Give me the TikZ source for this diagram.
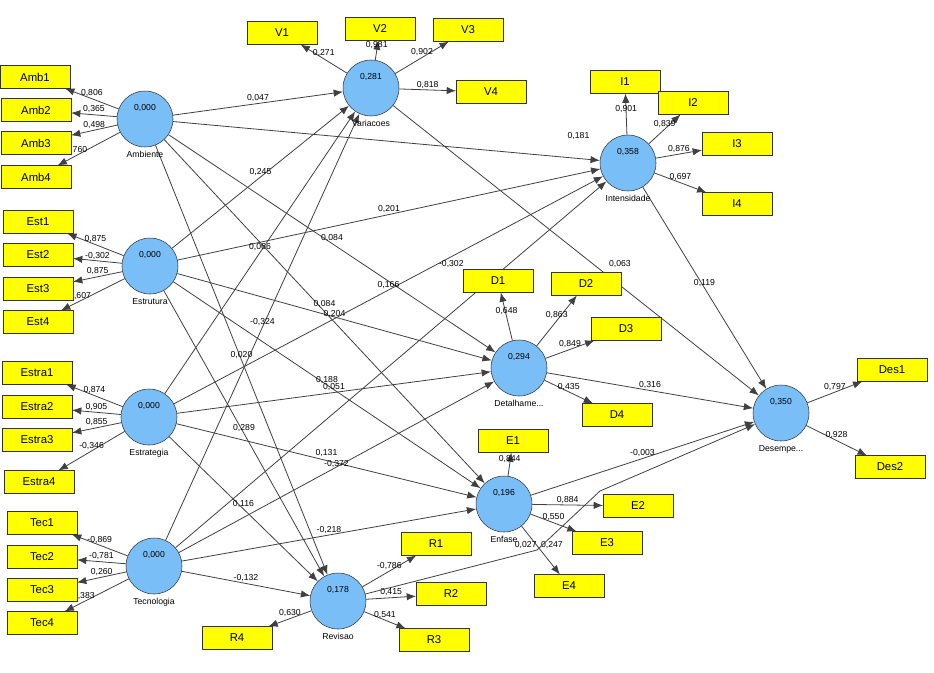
\documentclass[tikz,border=0pt]{standalone}
\usepackage{fontspec}
\setmainfont{Liberation Sans}
\usetikzlibrary{arrows.meta,backgrounds}
\definecolor{lvblue}{RGB}{122,190,248}
\definecolor{mvyellow}{RGB}{255,255,0}
\begin{document}
\begin{tikzpicture}[
        x=0.75pt, y=-0.75pt,
        lv/.style 2 args = {
            circle, draw=black!80, fill=lvblue,
            minimum size=42pt, inner sep=0pt,
            label={[lvnum]center:#1},
            label={[lvname]below:#2}},
        lvnum/.style = {yshift=8pt, font=\fontsize{6.5}{7}\selectfont},
        lvname/.style = {font=\fontsize{6.5}{7}\selectfont, inner sep=3pt},
        mv/.style = {
            draw=black!80, fill=mvyellow, outer sep=0pt,
            minimum width=52.5pt, minimum height=17.25pt,
            font=\fontsize{8.5}{9}\selectfont},
        arr/.style = {-{Latex[length=7pt,width=5.5pt]}, draw=black!75, line width=0.6pt},
        lib/.style = {pos=#1, above=1pt, inner sep=0pt, font=\fontsize{6.5}{7}\selectfont},
        lib/.default = 0.5,
]
        \useasboundingbox (0,0) rectangle (934,672);

        % constructs
        \node[lv={0,000}{Ambiente}]    (Amb)   at (145,119) {};
        \node[lv={0,000}{Estrutura}]   (Est)   at (150,266) {};
        \node[lv={0,000}{Estrategia}]  (Estra) at (149,417) {};
        \node[lv={0,000}{Tecnologia}]  (Tec)   at (154,566) {};
        \node[lv={0,281}{Variacoes}]   (Var)   at (371,88)  {};
        \node[lv={0,358}{Intensidade}] (Int)   at (628,163) {};
        \node[lv={0,294}{Detalhame...}] (Det)  at (519,368) {};
        \node[lv={0,196}{Enfase}]      (Enf)   at (504,504) {};
        \node[lv={0,178}{Revisao}]     (Rev)   at (338,601) {};
        \node[lv={0,350}{Desempe...}]  (Des)   at (781,413) {};

        % indicators
        \node[mv] (Amb1) at (35,77)  {Amb1};
        \node[mv] (Amb2) at (36,110) {Amb2};
        \node[mv] (Amb3) at (36,143) {Amb3};
        \node[mv] (Amb4) at (36,177) {Amb4};
        \node[mv] (Est1) at (38,222) {Est1};
        \node[mv] (Est2) at (38,255) {Est2};
        \node[mv] (Est3) at (38,289) {Est3};
        \node[mv] (Est4) at (38,322) {Est4};
        \node[mv] (Estra1) at (37,373) {Estra1};
        \node[mv] (Estra2) at (37,407) {Estra2};
        \node[mv] (Estra3) at (37,440) {Estra3};
        \node[mv] (Estra4) at (39,482) {Estra4};
        \node[mv] (Tec1) at (42,523) {Tec1};
        \node[mv] (Tec2) at (42,557) {Tec2};
        \node[mv] (Tec3) at (42,590) {Tec3};
        \node[mv] (Tec4) at (42,623) {Tec4};
        \node[mv] (V1) at (282,33) {V1};
        \node[mv] (V2) at (380,29) {V2};
        \node[mv] (V3) at (468,30) {V3};
        \node[mv] (V4) at (491,92) {V4};
        \node[mv] (I1) at (625,82)  {I1};
        \node[mv] (I2) at (693,103) {I2};
        \node[mv] (I3) at (737,144) {I3};
        \node[mv] (I4) at (737,204) {I4};
        \node[mv] (D1) at (498,281) {D1};
        \node[mv] (D2) at (586,284) {D2};
        \node[mv] (D3) at (626,329) {D3};
        \node[mv] (D4) at (617,415) {D4};
        \node[mv] (E1) at (513,441) {E1};
        \node[mv] (E2) at (638,506) {E2};
        \node[mv] (E3) at (607,543) {E3};
        \node[mv] (E4) at (569,586) {E4};
        \node[mv] (R1) at (436,544) {R1};
        \node[mv] (R2) at (451,594) {R2};
        \node[mv] (R3) at (434,640) {R3};
        \node[mv] (R4) at (237,638) {R4};
        \node[mv] (Des1) at (892,370) {Des1};
        \node[mv] (Des2) at (890,467) {Des2};

        \coordinate (rp1) at (537,550);
        \coordinate (rp2) at (600,491);

        \begin{scope}[on background layer]
        % outer model
        \draw[arr] (Amb) -- (Amb1) node[lib]{0,806};
        \draw[arr] (Amb) -- (Amb2) node[lib]{0,365};
        \draw[arr] (Amb) -- (Amb3) node[lib]{0,498};
        \draw[arr] (Amb) -- (Amb4) node[lib=0.7]{0,760};
        \draw[arr] (Est) -- (Est1) node[lib]{0,875};
        \draw[arr] (Est) -- (Est2) node[lib]{-0,302};
        \draw[arr] (Est) -- (Est3) node[lib]{0,875};
        \draw[arr] (Est) -- (Est4) node[lib=0.7]{0,607};
        \draw[arr] (Estra) -- (Estra1) node[lib]{0,874};
        \draw[arr] (Estra) -- (Estra2) node[lib]{0,905};
        \draw[arr] (Estra) -- (Estra3) node[lib]{0,855};
        \draw[arr] (Estra) -- (Estra4) node[lib]{-0,346};
        \draw[arr] (Tec) -- (Tec1) node[lib]{-0,869};
        \draw[arr] (Tec) -- (Tec2) node[lib]{-0,781};
        \draw[arr] (Tec) -- (Tec3) node[lib]{0,260};
        \draw[arr] (Tec) -- (Tec4) node[lib=0.7]{0,383};
        \draw[arr] (Var) -- (V1) node[lib]{0,271};
        \draw[arr] (Var) -- (V2) node[lib]{0,981};
        \draw[arr] (Var) -- (V3) node[lib]{0,902};
        \draw[arr] (Var) -- (V4) node[lib]{0,818};
        \draw[arr] (Int) -- (I1) node[lib]{0,901};
        \draw[arr] (Int) -- (I2) node[lib]{0,839};
        \draw[arr] (Int) -- (I3) node[lib]{0,876};
        \draw[arr] (Int) -- (I4) node[lib]{0,697};
        \draw[arr] (Det) -- (D1) node[lib]{0,648};
        \draw[arr] (Det) -- (D2) node[lib]{0,863};
        \draw[arr] (Det) -- (D3) node[lib]{0,849};
        \draw[arr] (Det) -- (D4) node[lib]{0,435};
        \draw[arr] (Enf) -- (E1) node[lib]{0,844};
        \draw[arr] (Enf) -- (E2) node[lib]{0,884};
        \draw[arr] (Enf) -- (E3) node[lib]{0,550};
        \draw[arr] (Enf) -- (E4) node[lib,above=0pt,anchor=south west]{0,247};
        \draw[arr] (Rev) -- (R1) node[lib]{-0,786};
        \draw[arr] (Rev) -- (R2) node[lib]{0,415};
        \draw[arr] (Rev) -- (R3) node[lib]{0,541};
        \draw[arr] (Rev) -- (R4) node[lib]{0,630};
        \draw[arr] (Des) -- (Des1) node[lib]{0,797};
        \draw[arr] (Des) -- (Des2) node[lib]{0,928};

        % inner model
        \draw[arr] (Amb) -- (Var) node[lib]{0,047};
        \draw[arr] (Amb) -- (Int) node[lib=0.95,yshift=13pt]{0,181};
        \draw[arr] (Amb) -- (Det) node[lib]{0,084};
        \draw[arr] (Amb) -- (Enf) node[lib,yshift=2pt]{0,084};
        \draw[arr] (Amb) -- (Rev) node[lib]{0,020};
        \draw[arr] (Est) -- (Var) node[lib]{0,245};
        \draw[arr] (Est) -- (Int) node[lib]{0,201};
        \draw[arr] (Est) -- (Det) node[lib,yshift=-1.5pt]{0,204};
        \draw[arr] (Est) -- (Enf) node[lib]{0,188};
        \draw[arr] (Est) -- (Rev) node[lib]{0,289};
        \draw[arr] (Estra) -- (Var) node[lib]{0,066};
        \draw[arr] (Estra) -- (Int) node[lib]{0,166};
        \draw[arr] (Estra) -- (Det) node[lib]{0,051};
        \draw[arr] (Estra) -- (Enf) node[lib,yshift=2pt]{0,131};
        \draw[arr] (Estra) -- (Rev) node[lib]{0,116};
        \draw[arr] (Tec) -- (Var) node[lib]{-0,324};
        \draw[arr] (Tec) -- (Int) node[lib=0.64,yshift=33pt]{-0,302};
        \draw[arr] (Tec) -- (Det) node[lib,yshift=-1.5pt]{-0,372};
        \draw[arr] (Tec) -- (Enf) node[lib]{-0,218};
        \draw[arr] (Tec) -- (Rev) node[lib]{-0,132};
        \draw[arr] (Var) -- (Des) node[lib=0.62,yshift=12pt]{0,063};
        \draw[arr] (Int) -- (Des) node[lib]{0,119};
        \draw[arr] (Det) -- (Des) node[lib]{0,316};
        \draw[arr] (Enf) -- (Des) node[lib]{-0,003};
        \draw[arr] (Rev) -- (rp1) node[lib=1,anchor=south east]{0,027} -- (rp2) -- (Des);
        \end{scope}
\end{tikzpicture}
\end{document}
